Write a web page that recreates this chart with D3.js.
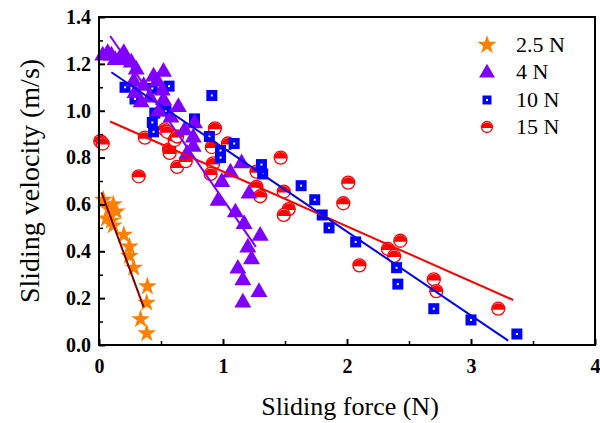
<!DOCTYPE html>
<html><head><meta charset="utf-8">
<script src="https://cdn.jsdelivr.net/npm/d3@7"></script>
<style>body{margin:0;background:#fff}svg{display:block}svg text{font-family:"Liberation Serif","Times New Roman",Tinos,serif !important}</style>
</head><body><svg id="c" width="600" height="423"></svg>
<script>
const seriesNames = ["2.5 N", "4 N", "10 N", "15 N"];
const xTicks = [0, 1, 2, 3, 4];
const yTicks = [0.0, 0.2, 0.4, 0.6, 0.8, 1.0, 1.2, 1.4];
const data25 = [[0.035,0.62],[0.115,0.60],[0.14,0.57],[0.06,0.54],[0.10,0.53],[0.115,0.51],[0.08,0.58],[0.20,0.47],[0.245,0.42],[0.245,0.38],[0.28,0.33],[0.39,0.25],[0.385,0.18],[0.335,0.11],[0.385,0.05]];
const data4 = [[0.03,1.24],[0.07,1.25],[0.10,1.24],[0.13,1.22],[0.17,1.23],[0.20,1.25],[0.22,1.22],[0.26,1.21],[0.30,1.18],[0.28,1.13],[0.29,1.08],[0.34,1.04],[0.36,1.11],[0.41,1.06],[0.44,1.15],[0.47,1.13],[0.51,1.09],[0.52,1.17],[0.52,1.05],[0.48,1.00],[0.58,0.975],[0.64,1.02],[0.69,0.92],[0.71,0.82],[0.76,0.89],[0.76,0.85],[0.77,0.95],[0.96,0.62],[0.99,0.70],[1.06,0.74],[1.10,0.57],[1.15,0.78],[1.17,0.52],[1.21,0.65],[1.30,0.47],[1.20,0.42],[1.23,0.37],[1.12,0.33],[1.16,0.28],[1.29,0.23],[1.16,0.185]];
const data10 = [[0.21,1.10],[0.29,1.05],[0.43,1.095],[0.565,1.105],[0.91,1.065],[0.45,0.99],[0.43,0.95],[0.44,0.91],[0.54,1.00],[0.77,0.965],[0.89,0.89],[0.98,0.83],[0.98,0.80],[1.09,0.86],[1.31,0.77],[1.32,0.73],[1.63,0.68],[1.74,0.62],[1.80,0.555],[1.855,0.50],[2.07,0.44],[2.40,0.33],[2.41,0.26],[2.70,0.155],[3.00,0.107],[3.37,0.047]];
const data15 = [[0.01,0.87],[0.03,0.86],[0.32,0.72],[0.37,0.885],[0.53,0.92],[0.55,0.91],[0.565,0.835],[0.57,0.82],[0.61,0.875],[0.63,0.89],[0.63,0.76],[0.70,0.785],[0.91,0.845],[0.935,0.925],[0.92,0.775],[0.90,0.73],[1.04,0.86],[1.27,0.74],[1.27,0.675],[1.30,0.635],[1.465,0.80],[1.49,0.655],[1.53,0.58],[1.49,0.555],[1.97,0.605],[2.01,0.693],[2.10,0.34],[2.33,0.41],[2.43,0.445],[2.38,0.38],[2.70,0.28],[2.72,0.23],[3.22,0.155]];
// fit lines: [x0, x1, intercept, slope]
const fit25 = [0.02, 0.36, 0.68, -1.44];
const fit4 = [0.09, 1.265, 1.388, -0.766];
const fit10 = [0.10, 3.30, 1.200, -0.358];
const fit15 = [0.09, 3.34, 0.975, -0.2344];

const FONT = '"Liberation Serif","Times New Roman",Tinos,serif';
const svg = d3.select("#c");
const m = {l:99, r:595, t:17, b:345};
const x = d3.scaleLinear().domain([0,4]).range([m.l, m.r]);
const y = d3.scaleLinear().domain([0,1.4]).range([m.b, m.t]);

const lineGen = d3.line().x(d=>x(d[0])).y(d=>y(d[1]));
function fitLine(f, color){
  const pts = [[f[0], f[2]+f[3]*f[0]], [f[1], f[2]+f[3]*f[1]]];
  svg.append("path").attr("d", lineGen(pts)).attr("stroke", color).attr("stroke-width", 2).attr("fill","none");
}

const cOrange = "#ff8000", cPurple = "#8000ff", cBlue = "#0000ff", cRed = "#ff0000";

function drawStar(g, px, py, sz){ g.append("path").attr("d", d3.symbol().type(d3.symbolStar).size(sz||110)()).attr("transform",`translate(${px},${py})`).attr("fill", cOrange); }
function drawTri(g, px, py, sz){ g.append("path").attr("d", d3.symbol().type(d3.symbolTriangle).size(sz||125)()).attr("transform",`translate(${px},${py+1})`).attr("fill", cPurple); }
function drawSq(g, px, py, s){ s = s||11;
  g.append("rect").attr("x",px-s/2).attr("y",py-s/2).attr("width",s).attr("height",s).attr("fill",cBlue);
  g.append("rect").attr("x",px-1).attr("y",py-1).attr("width",2).attr("height",2).attr("fill","#fff"); }
function drawHalf(g, px, py, r){ r = r||6.5;
  g.append("circle").attr("cx",px).attr("cy",py).attr("r",r).attr("fill","#fff").attr("stroke",cRed).attr("stroke-width",1.3);
  g.append("path").attr("d",`M${px-r},${py+1} A${r},${r} 0 0 1 ${px+r},${py+1} Z`).attr("fill",cRed); }

const gPts = svg.append("g");
data15.forEach(d=>drawHalf(gPts, x(d[0]), y(d[1])));
data10.forEach(d=>drawSq(gPts, x(d[0]), y(d[1])));
data4.forEach(d=>drawTri(gPts, x(d[0]), y(d[1])));
data25.forEach(d=>drawStar(gPts, x(d[0]), y(d[1])));

fitLine(fit15, cRed);
fitLine(fit10, cBlue);
fitLine(fit4, cPurple);
fitLine(fit25, "#800000");

svg.append("rect").attr("x",m.l).attr("y",m.t).attr("width",m.r-m.l).attr("height",m.b-m.t).attr("fill","none").attr("stroke","#000").attr("stroke-width",2);

const xAxis = d3.axisBottom(x).tickValues(xTicks).tickSize(-6).tickFormat(d3.format("d"));
const gx = svg.append("g").attr("transform",`translate(0,${m.b})`).call(xAxis);
gx.attr("font-family", FONT);
gx.select(".domain").remove();
gx.selectAll("line").attr("stroke-width",2);
gx.selectAll("text").attr("y",14).style("font-size","20px").style("font-weight","700").attr("fill","#000");
svg.append("g").attr("transform",`translate(0,${m.b})`).call(d3.axisBottom(x).tickValues([0.5,1.5,2.5,3.5]).tickSize(-4).tickFormat(""))
  .call(g=>{g.select(".domain").remove(); g.selectAll("line").attr("stroke-width",1.5);});

const yAxis = d3.axisLeft(y).tickValues(yTicks).tickSize(-6).tickFormat(d3.format(".1f"));
const gy = svg.append("g").attr("transform",`translate(${m.l},0)`).call(yAxis);
gy.attr("font-family", FONT);
gy.select(".domain").remove();
gy.selectAll("line").attr("stroke-width",2);
gy.selectAll("text").attr("x",-8).style("font-size","20px").style("font-weight","700").attr("fill","#000");
svg.append("g").attr("transform",`translate(${m.l},0)`).call(d3.axisLeft(y).tickValues([0.1,0.3,0.5,0.7,0.9,1.1,1.3]).tickSize(-4).tickFormat(""))
  .call(g=>{g.select(".domain").remove(); g.selectAll("line").attr("stroke-width",1.5);});

svg.append("text").attr("x",350).attr("y",415).attr("text-anchor","middle").style("font-size","26px").text("Sliding force (N)");
svg.append("text").attr("transform",`translate(39,181) rotate(-90)`).attr("text-anchor","middle").style("font-size","28px").text("Sliding velocity (m/s)");

const lg = svg.append("g");
const ly = [45, 72, 100, 127];
drawStar(lg, 487, ly[0], 115);
drawTri(lg, 487, ly[1], 110);
drawSq(lg, 487, ly[2], 9);
drawHalf(lg, 487, ly[3], 5.5);
seriesNames.forEach((n,i)=>lg.append("text").attr("x",516).attr("y",ly[i]+7).style("font-size","22px").text(n));
</script></body></html>
